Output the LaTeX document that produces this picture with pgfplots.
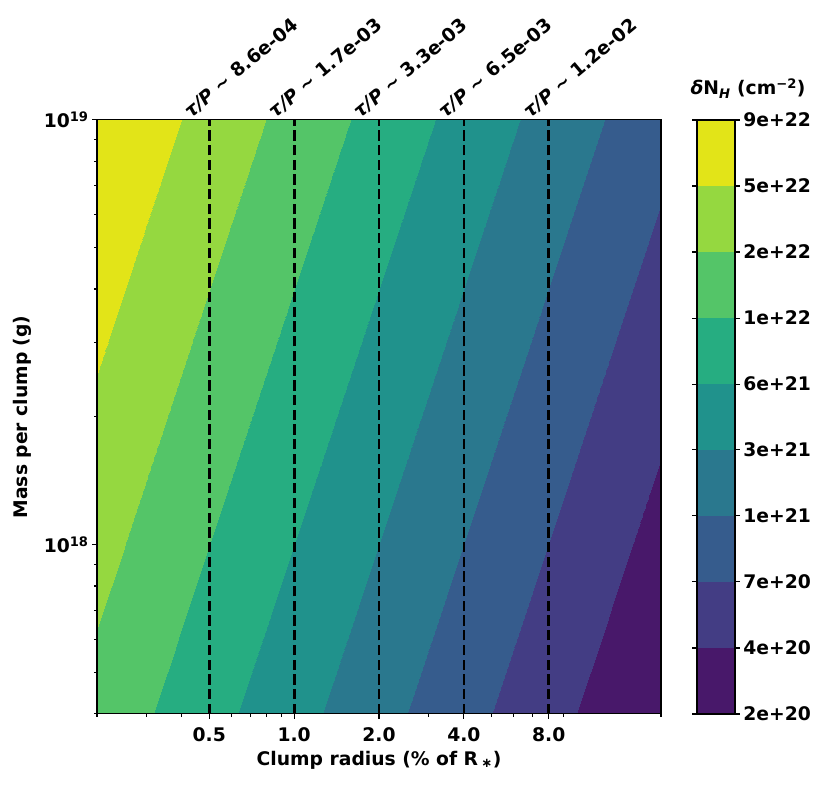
\documentclass[border=0pt]{standalone}
\usepackage{pgfplots}
\pgfplotsset{compat=1.18}
\usepackage{fontspec}
\setmainfont{DejaVu Sans}

% log10 of delta N_H on a grid of clump radius (% of R*) and mass per clump (g)
\pgfplotstableread{
r    M     lgN
0.2  4e17  22.256
0.5  4e17  21.858
1    4e17  21.557
2    4e17  21.256
4    4e17  20.955
8    4e17  20.654
20   4e17  20.256
0.2  1e18  22.455
0.5  1e18  22.057
1    1e18  21.756
2    1e18  21.455
4    1e18  21.154
8    1e18  20.853
20   1e18  20.455
0.2  3e18  22.694
0.5  3e18  22.296
1    3e18  21.995
2    3e18  21.694
4    3e18  21.393
8    3e18  21.092
20   3e18  20.694
0.2  1e19  22.955
0.5  1e19  22.557
1    1e19  22.256
2    1e19  21.955
4    1e19  21.654
8    1e19  21.353
20   1e19  20.955
}\griddata

\tikzset{
  taulabel/.style={rotate=40, anchor=base west, inner sep=0pt, xshift=-13bp, yshift=13bp},
  tauline/.style={black, line width=2.8bp, dash pattern=on 10.3bp off 4.4bp},
}

\begin{document}
\begin{tikzpicture}[font=\fontsize{18.8}{22}\selectfont\bfseries]
\path[use as bounding box] (0,0) rectangle (823bp,785bp);
\begin{axis}[
  at={(97bp,71bp)}, anchor=south west,
  width=564bp, height=594bp, scale only axis,
  xmode=log, ymode=log,
  xmin=0.2, xmax=20, ymin=4e17, ymax=1e19,
  clip=false, axis on top,
  xtick={0.5,1,2,4,8},
  xticklabels={0.5,1.0,2.0,4.0,8.0},
  xticklabel style={yshift=-5bp},
  minor xtick={0.2,0.3,0.4,0.6,0.7,0.8,0.9,3,5,6,7,9,20},
  ytick={1e18,1e19},
  yticklabels={10\textsuperscript{18},10\textsuperscript{19}},
  minor ytick={4e17,5e17,6e17,7e17,8e17,9e17,2e18,3e18,4e18,5e18,6e18,7e18,8e18,9e18},
  tick align=outside,
  major tick length=4.9bp, minor tick length=2.8bp,
  tick style={black, line width=1.1bp},
  axis line style={line width=1.1bp},
  xtick pos=bottom, ytick pos=left,
  xlabel={Clump radius (\% of R\,\textsubscript{∗})},
  ylabel={Mass per clump (g)},
  xlabel style={at={(axis description cs:0.5,-0.0774)}, anchor=center},
  ylabel style={at={(axis description cs:-0.133,0.5)}, anchor=center},
  point meta min=20.256, point meta max=22.955,
  colormap={vir9}{rgb255=(72,24,106) rgb255=(67,61,132) rgb255=(54,92,141)
    rgb255=(42,120,142) rgb255=(32,146,140) rgb255=(38,173,129)
    rgb255=(84,197,104) rgb255=(149,216,64) rgb255=(226,228,24)},
  colormap access=piecewise constant,
  colorbar right,
  colorbar shift/.style={xshift=36bp},
  colorbar style={
    at={(parent axis.north east)}, anchor=north west,
    width=38bp,
    ytick={20.256,20.556,20.856,21.156,21.456,21.755,22.055,22.355,22.655,22.955},
    yticklabels={2e+20,4e+20,7e+20,1e+21,3e+21,6e+21,1e+22,2e+22,5e+22,9e+22},
    tick align=outside, major tick length=4.9bp,
    ytick style={black, line width=1.1bp},
    axis line style={line width=1.1bp},
  },
]
\addplot[surf, shader=interp, mesh/cols=7, point meta=explicit]
  table[x=r, y=M, meta=lgN] {\griddata};

\addplot[tauline] coordinates {(0.5,4e17) (0.5,1e19)};
\addplot[tauline] coordinates {(1,4e17) (1,1e19)};
\addplot[tauline] coordinates {(2,4e17) (2,1e19)};
\addplot[tauline] coordinates {(4,4e17) (4,1e19)};
\addplot[tauline] coordinates {(8,4e17) (8,1e19)};

\node[taulabel] at (axis cs:0.5,1e19) {\textit{τ/P} \textasciitilde{} 8.6e-04};
\node[taulabel] at (axis cs:1,1e19) {\textit{τ/P} \textasciitilde{} 1.7e-03};
\node[taulabel] at (axis cs:2,1e19) {\textit{τ/P} \textasciitilde{} 3.3e-03};
\node[taulabel] at (axis cs:4,1e19) {\textit{τ/P} \textasciitilde{} 6.5e-03};
\node[taulabel] at (axis cs:8,1e19) {\textit{τ/P} \textasciitilde{} 1.2e-02};

\node[anchor=base] at (axis description cs:1.1543,1.0421) {\textit{δ}N\textsubscript{\textit{H}} (cm\textsuperscript{−2})};
\end{axis}
\end{tikzpicture}
\end{document}
